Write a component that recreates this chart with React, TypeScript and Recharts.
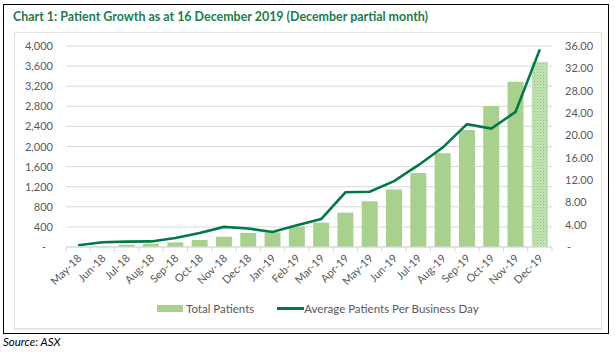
import {
  ComposedChart,
  Bar,
  Line,
  XAxis,
  YAxis,
  CartesianGrid,
  Cell,
} from 'recharts';

const months = [
  'May-18', 'Jun-18', 'Jul-18', 'Aug-18', 'Sep-18', 'Oct-18', 'Nov-18',
  'Dec-18', 'Jan-19', 'Feb-19', 'Mar-19', 'Apr-19', 'May-19', 'Jun-19',
  'Jul-19', 'Aug-19', 'Sep-19', 'Oct-19', 'Nov-19', 'Dec-19',
];

const totalPatients = [
  5, 15, 46, 66, 93, 139, 205, 279, 292, 404, 485, 684, 910, 1143, 1475,
  1867, 2326, 2804, 3289, 3681,
];

const avgPerBusinessDay = [
  0.3, 0.84, 0.96, 1.0, 1.6, 2.5, 3.6, 3.3, 2.7, 3.9, 5.0, 9.8, 9.9, 11.8,
  14.65, 17.8, 22.0, 21.2, 24.2, 35.4,
];

const leftTicks = [0, 400, 800, 1200, 1600, 2000, 2400, 2800, 3200, 3600, 4000];
const rightTicks = [0, 4, 8, 12, 16, 20, 24, 28, 32, 36];

const data = months.map((m, i) => ({
  month: m,
  total: totalPatients[i],
  avg: avgPerBusinessDay[i],
}));

const FONT = 'Lato, "Open Sans", sans-serif';
const GREEN = '#00784a';
const BAR = '#a9d18e';
const TEXT = '#595959';
const GRID = '#d9d9d9';

// plot geometry
const CHART_W = 615;
const CHART_H = 330;
const PLOT_LEFT = 66;
const PLOT_RIGHT = 552;
const BAND = (PLOT_RIGHT - PLOT_LEFT) / months.length;

function XTick(props: any) {
  const { x, y, payload, index } = props;
  const axisY = y - 8;
  return (
    <g>
      <line x1={x - BAND / 2} x2={x - BAND / 2} y1={axisY} y2={axisY + 5} stroke={GRID} />
      {index === months.length - 1 && (
        <line x1={x + BAND / 2} x2={x + BAND / 2} y1={axisY} y2={axisY + 5} stroke={GRID} />
      )}
      <text
        transform={`translate(${x + 4},${y + 4}) rotate(-45)`}
        textAnchor="end"
        fill={TEXT}
        fontSize={11}
        fontFamily={FONT}
      >
        {payload.value}
      </text>
    </g>
  );
}

function LeftTick(props: any) {
  const { x, y, payload } = props;
  const v = payload.value;
  return (
    <text x={v === 0 ? x - 7 : x} y={y} dy={4} textAnchor="end" fill={TEXT} fontSize={11} fontFamily={FONT}>
      {v === 0 ? '-' : v.toLocaleString('en-US')}
    </text>
  );
}

function RightTick(props: any) {
  const { x, y, payload } = props;
  const v = payload.value;
  return (
    <text x={v === 0 ? x + 2 : x} y={y} dy={4} textAnchor="start" fill={TEXT} fontSize={11} fontFamily={FONT}>
      {v === 0 ? '-' : v.toFixed(2)}
    </text>
  );
}

export default function App() {
  return (
    <div
      style={{
        position: 'absolute',
        left: 0,
        top: 0,
        width: 615,
        height: 353,
        background: '#fff',
        fontFamily: FONT,
      }}
    >
      {/* outer frame */}
      <div
        style={{
          position: 'absolute',
          left: 3,
          top: 4,
          width: 604,
          height: 328,
          border: '1.5px solid #000',
        }}
      />
      {/* inner chart area frame */}
      <div
        style={{
          position: 'absolute',
          left: 14,
          top: 32,
          width: 586,
          height: 295,
          border: '1px solid #e2e2e2',
          boxShadow: '0 1px 1px #ececec',
        }}
      />
      <svg style={{ position: 'absolute', left: 0, top: 0 }} width={615} height={30}>
        <text
          x={13}
          y={21}
          fill="#1b7d4c"
          fontSize={13}
          fontWeight={700}
          fontFamily={FONT}
          textLength={415}
          lengthAdjust="spacingAndGlyphs"
        >
          Chart 1: Patient Growth as at 16 December 2019 (December partial month)
        </text>
      </svg>

      <div style={{ position: 'absolute', left: 0, top: 0 }}>
        <ComposedChart
          width={CHART_W}
          height={CHART_H}
          data={data}
          margin={{ top: 46, right: CHART_W - PLOT_RIGHT - 50, bottom: 33, left: 0 }}
          barCategoryGap="17%"
        >
          <defs>
            <pattern id="dots" width="3" height="3" patternUnits="userSpaceOnUse">
              <rect width="3" height="3" fill="#c6e3b8" />
              <rect x="0" y="0" width="1" height="1" fill="#8cc274" />
              <rect x="1.5" y="1.5" width="1" height="1" fill="#a0cd8a" />
            </pattern>
          </defs>
          <CartesianGrid vertical={false} stroke={GRID} yAxisId="left" />
          <XAxis
            dataKey="month"
            interval={0}
            height={50}
            axisLine={{ stroke: GRID }}
            tickLine={false}
            tick={<XTick />}
          />
          <YAxis
            yAxisId="left"
            orientation="left"
            width={PLOT_LEFT}
            domain={[0, 4000]}
            ticks={leftTicks}
            interval={0}
            axisLine={false}
            tickLine={false}
            tickSize={6}
            tickMargin={7}
            tick={<LeftTick />}
          />
          <YAxis
            yAxisId="right"
            orientation="right"
            width={50}
            domain={[0, 36]}
            ticks={rightTicks}
            interval={0}
            axisLine={false}
            tickLine={false}
            tickSize={6}
            tickMargin={7}
            tick={<RightTick />}
          />
          <Bar yAxisId="left" dataKey="total" fill={BAR} isAnimationActive={false}>
            {data.map((d, i) => (
              <Cell key={d.month} fill={i === data.length - 1 ? 'url(#dots)' : BAR} />
            ))}
          </Bar>
          <Line
            yAxisId="right"
            dataKey="avg"
            type="linear"
            stroke={GREEN}
            strokeWidth={2.6}
            dot={false}
            isAnimationActive={false}
          />
        </ComposedChart>
      </div>

      {/* legend */}
      <div
        style={{
          position: 'absolute',
          top: 302,
          left: 157,
          display: 'flex',
          alignItems: 'center',
          fontSize: 11.5,
          color: TEXT,
          whiteSpace: 'nowrap',
        }}
      >
        <span style={{ width: 26, height: 7, background: BAR, display: 'inline-block', marginRight: 3 }} />
        <span>Total Patients</span>
        <span style={{ width: 27, height: 3, background: GREEN, display: 'inline-block', marginLeft: 23 }} />
        <span>Average Patients Per Business Day</span>
      </div>

      <div
        style={{
          position: 'absolute',
          left: 3,
          top: 335,
          fontSize: 11.5,
          fontStyle: 'italic',
          color: '#000',
        }}
      >
        Source: ASX
      </div>
    </div>
  );
}
